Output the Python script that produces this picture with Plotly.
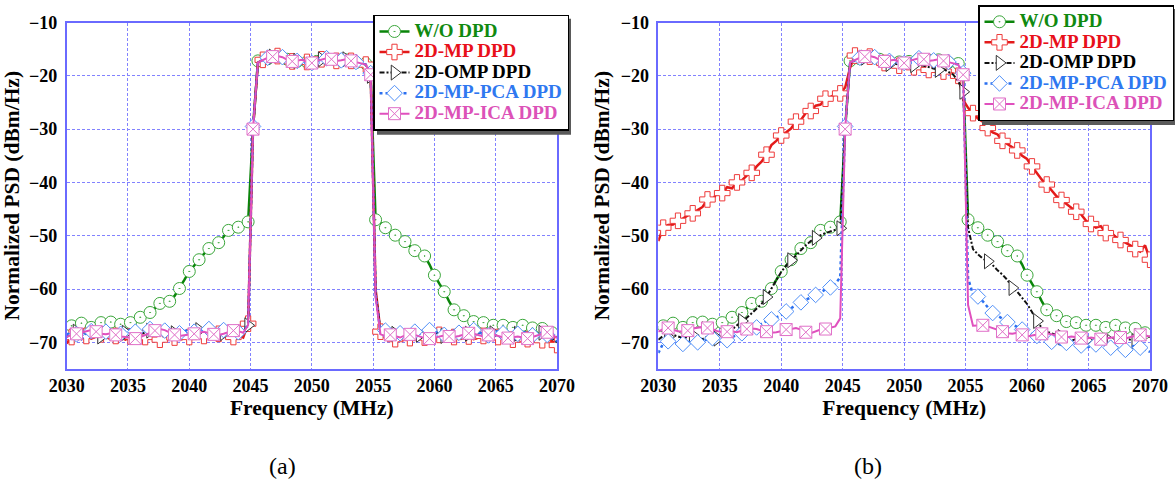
import plotly.graph_objects as go

# ---------------- data ----------------
FREQ = [round(2030 + 0.4 * i, 1) for i in range(101)]   # MHz sample grid
X_TICKS = [2030, 2035, 2040, 2045, 2050, 2055, 2060, 2065, 2070]
Y_TICKS = [-70, -60, -50, -40, -30, -20, -10]

# in-band parts (2045.6 ... 2054.4 MHz)
BAND_WO = [-17.2, -17.0, -16.8, -16.7, -16.5, -16.6, -16.9, -17.2, -17.3, -17.1,
           -17.4, -17.5, -17.3, -17.0, -16.8, -16.9, -17.1, -17.2, -17.0, -17.3,
           -17.5, -17.5, -17.7]
BAND_DPD = [-17.5, -17.0, -16.6, -16.4, -16.3, -16.5, -17.0, -17.3, -17.2, -17.0,
            -17.4, -17.6, -17.2, -16.9, -16.7, -16.9, -17.2, -17.1, -16.9, -17.2,
            -17.4, -17.6, -17.9]
BAND_MP_B = [-18.5, -16.2, -16.0, -16.1, -16.4, -16.8, -17.3, -17.6, -17.8, -18.0,
             -18.1, -18.3, -18.2, -18.4, -18.6, -18.7, -18.9, -18.8, -19.0, -19.2,
             -19.3, -19.6, -20.0]
BAND_OMP_B = [-17.6, -17.1, -16.8, -16.6, -16.6, -16.9, -17.3, -17.6, -17.8, -17.7,
              -18.0, -18.2, -18.1, -18.0, -17.9, -18.1, -18.4, -18.6, -18.9, -18.7,
              -19.2, -19.8, -21.0]

# W/O DPD (same measurement in both panels)
WO_LO = [-67.2, -66.9, -66.6, -66.4, -66.9, -67.2, -66.8, -66.3, -66.2, -66.2,
         -66.4, -66.6, -66.5, -66.3, -65.8, -65.3, -64.9, -64.4, -63.6, -62.7,
         -62.4, -62.3, -61.3, -59.9, -58.3, -56.7, -55.5, -54.5, -53.4, -52.4,
         -51.9, -51.3, -50.2, -49.0, -48.7, -48.4, -47.9, -47.4, -30.0]
WO_HI = [-20.0, -47.0, -47.6, -48.5, -49.2, -49.9, -50.5, -51.1, -51.9, -52.8,
         -53.3, -53.8, -55.4, -57.4, -59.0, -60.5, -62.3, -63.9, -64.6, -65.0,
         -65.6, -66.1, -66.2, -66.3, -66.6, -66.8, -66.8, -66.8, -67.0, -67.2,
         -67.0, -66.8, -67.1, -67.3, -67.4, -67.4, -67.8, -68.2, -68.6]

# panel (a)
MP_A_LO = [-70.2, -69.0, -68.6, -69.2, -68.8, -69.3, -68.9, -68.5, -69.0, -69.4,
           -68.8, -69.1, -69.5, -68.9, -69.2, -69.6, -69.0, -68.7, -69.3, -69.5,
           -68.9, -68.6, -69.1, -69.4, -68.8, -69.0, -68.5, -68.2, -68.8, -69.2,
           -68.7, -68.4, -68.9, -69.3, -69.0, -68.6, -69.1, -66.5, -30.0]
MP_A_HI = [-20.0, -60.0, -68.0,
           -69.2, -68.7, -69.4, -69.0, -68.5, -69.2, -69.5, -68.8, -69.1, -69.4,
           -68.9, -68.6, -69.2, -69.5, -69.0, -68.7, -69.3, -68.9, -69.4, -69.1,
           -68.8, -69.3, -69.6, -69.0, -68.7, -69.2, -69.5, -68.9, -69.1, -69.4,
           -68.8, -69.2, -69.6, -69.3, -69.8, -70.5]
OMP_A_LO = [-69.0, -68.4, -68.0, -68.5, -68.2, -67.9, -68.6, -68.9, -68.3, -68.0,
            -68.4, -68.7, -68.2, -67.9, -68.3, -68.6, -68.1, -67.8, -68.2, -68.5,
            -68.0, -67.8, -68.3, -68.6, -68.2, -67.9, -68.1, -67.7, -67.4, -67.3,
            -67.6, -68.0, -68.3, -67.9, -68.1, -68.4, -67.8, -66.8, -30.0]
OMP_A_HI = [-20.0, -60.5, -68.0,
            -68.3, -67.9, -68.4, -68.7, -68.1, -67.8, -68.2, -68.6, -68.3, -67.9,
            -68.0, -68.5, -68.8, -68.2, -67.9, -68.3, -68.7, -68.4, -68.0, -68.2,
            -68.6, -68.9, -68.3, -67.9, -68.2, -68.5, -68.8, -68.4, -68.1, -68.5,
            -68.9, -68.6, -68.2, -68.7, -69.3, -70.0]
PCA_A_LO = [-68.6, -68.0, -68.5, -69.4, -68.3, -67.9, -68.2, -68.6, -68.0, -67.7,
            -68.1, -68.4, -67.9, -67.6, -68.0, -68.3, -67.8, -67.5, -67.9, -68.2,
            -67.8, -67.6, -68.0, -68.3, -67.9, -67.6, -68.0, -68.2, -67.8, -67.5,
            -67.9, -68.2, -67.7, -67.4, -67.8, -68.1, -67.6, -66.9, -29.5]
PCA_A_HI = [-19.5, -61.0, -68.2,
            -67.8, -67.5, -68.0, -68.3, -67.9, -67.6, -68.0, -68.4, -68.1, -67.7,
            -67.9, -68.3, -68.6, -68.1, -67.8, -68.2, -68.5, -68.0, -67.7, -68.1,
            -68.4, -68.7, -68.2, -67.9, -68.3, -68.6, -68.9, -68.4, -68.0, -68.3,
            -68.7, -68.5, -68.1, -68.6, -69.2, -69.8]
ICA_A_LO = [-69.0, -68.5, -68.4, -68.2, -67.9, -67.7, -68.0, -68.4, -68.5, -68.3,
            -68.6, -68.9, -69.0, -69.2, -69.3, -69.0, -68.6, -68.2, -67.8, -67.5,
            -67.7, -68.2, -68.6, -68.8, -68.7, -68.5, -68.4, -68.2, -68.0, -68.3,
            -68.5, -68.6, -68.4, -68.1, -67.8, -67.9, -68.2, -66.8, -30.0]
ICA_A_HI = [-19.8, -61.5, -68.5,
            -68.8, -68.6, -68.9, -69.1, -68.7, -68.5, -68.6, -68.9, -69.2, -69.3,
            -69.1, -68.8, -68.7, -68.9, -69.0, -68.8, -68.5, -68.3, -68.4, -68.7,
            -68.9, -68.6, -68.5, -68.8, -69.1, -69.2, -69.0, -68.9, -69.1, -69.3,
            -69.0, -68.7, -68.4, -68.1, -68.5, -69.2]

# panel (b)
MP_B_LO = [-51.0, -48.5, -48.0, -47.9, -47.2, -46.8, -46.2, -45.8, -45.2, -44.6,
           -43.2, -43.4, -41.8, -42.0, -40.9, -41.1, -40.0, -39.6, -38.7, -38.2,
           -37.0, -36.1, -34.8, -33.0, -32.2, -31.2, -30.6, -29.9, -28.6, -28.3,
           -27.0, -26.6, -25.6, -25.4, -24.3, -24.0, -23.5, -23.3, -22.2]
MP_B_HI = [-24.5, -26.0, -27.0, -28.0, -28.6, -29.8, -30.6, -31.0, -32.2, -32.8,
           -33.5, -34.0, -35.0, -35.6, -37.0, -38.3, -39.5, -40.4, -41.5, -42.6,
           -43.3, -44.0, -44.8, -45.5, -46.0, -47.2, -47.8, -48.5, -48.2, -49.5,
           -49.3, -50.2, -50.8, -51.3, -51.8, -52.5, -53.0, -51.8, -54.5]
OMP_B_LO = [-69.5, -68.8, -69.0, -68.6, -68.9, -69.2, -69.0, -68.7, -69.1, -69.4,
            -68.9, -68.6, -69.3, -69.0, -68.4, -67.6, -66.8, -66.0, -65.4, -64.5,
            -63.6, -62.8, -61.5, -59.9, -58.2, -56.8, -55.6, -54.6, -53.6, -52.7,
            -51.8, -51.0, -50.4, -49.9, -49.5, -49.2, -48.9, -48.6, -30.0]
OMP_B_HI = [-23.0, -48.5, -52.5, -53.5, -54.3, -54.8, -55.5, -56.5, -57.3, -58.3,
            -59.8, -60.5, -61.6, -62.8, -64.3, -66.0, -67.3, -68.0, -68.3, -68.7,
            -69.0, -69.4, -69.7, -69.3, -69.0, -69.6, -69.8, -69.4, -69.1, -69.6,
            -69.9, -69.3, -68.8, -69.2, -69.5, -69.8, -69.2, -68.7, -69.0]
PCA_B_LO = [-72.0, -70.2, -69.8, -70.0, -70.4, -70.3, -69.9, -70.1, -70.0, -69.7,
            -69.5, -69.2, -68.9, -69.3, -69.6, -69.0, -68.6, -68.3, -68.2, -67.8,
            -67.2, -66.5, -66.0, -65.7, -65.3, -64.9, -64.2, -63.6, -63.0, -62.5,
            -62.0, -61.6, -61.1, -60.6, -60.1, -59.7, -59.0, -57.8, -29.5]
PCA_B_HI = [-19.5, -58.0, -61.0, -61.4, -62.3, -63.5, -64.5, -65.0, -65.6, -66.2,
            -66.7, -67.1, -67.6, -68.1, -68.5, -68.8, -69.2, -69.6, -69.9, -70.2,
            -70.5, -70.1, -69.8, -70.3, -70.6, -70.9, -70.8, -70.4, -70.2, -70.6,
            -71.0, -70.8, -71.2, -71.4, -70.9, -70.6, -71.0, -71.3, -71.8]
ICA_B_LO = [-68.0, -67.5, -67.3, -67.6, -67.9, -68.0, -67.8, -67.4, -67.2, -67.1,
            -67.3, -67.5, -67.9, -68.1, -68.0, -67.9, -68.1, -67.8, -67.5, -67.4,
            -67.5, -67.8, -68.0, -68.2, -68.1, -67.9, -67.6, -67.5, -67.3, -67.6,
            -68.1, -68.3, -67.9, -67.6, -67.5, -67.3, -67.0, -65.5, -30.0]
ICA_B_HI = [-19.8, -63.0, -66.9,
            -66.9, -66.8, -67.0, -67.3, -67.6, -68.0, -68.3, -68.4, -68.2, -68.6,
            -68.9, -68.7, -68.5, -68.4, -68.3, -68.5, -68.8, -69.0, -69.1, -68.9,
            -69.0, -69.2, -69.3, -69.1, -69.2, -69.4, -69.3, -69.2, -69.0, -69.1,
            -69.3, -69.0, -68.8, -68.6, -68.7, -68.9]

SERIES_NAMES = ["W/O DPD", "2D-MP DPD", "2D-OMP DPD", "2D-MP-PCA DPD", "2D-MP-ICA DPD"]
PANEL_A = [WO_LO + BAND_WO + WO_HI,
           MP_A_LO + BAND_DPD + MP_A_HI,
           OMP_A_LO + BAND_DPD + OMP_A_HI,
           PCA_A_LO + BAND_DPD + PCA_A_HI,
           ICA_A_LO + BAND_DPD + ICA_A_HI]
PANEL_B = [WO_LO + BAND_WO + WO_HI,
           MP_B_LO + BAND_MP_B + MP_B_HI,
           OMP_B_LO + BAND_OMP_B + OMP_B_HI,
           PCA_B_LO + BAND_DPD + PCA_B_HI,
           ICA_B_LO + BAND_DPD + ICA_B_HI]
for s in PANEL_A + PANEL_B:
    assert len(s) == len(FREQ), len(s)

# ---------------- styles ----------------
FONT = "Liberation Serif, Times New Roman, Times, serif"
STYLES = [
    dict(text="#108a10", line=dict(color="#0a850a", width=2.5),
         marker=dict(symbol="circle-dot", size=12, color="white", line=dict(color="#3aa63a", width=1)),
         start=1, step=2),
    dict(text="#e8101a", line=dict(color="#e31a1a", width=2.5),
         marker=dict(symbol="cross", size=13, color="white", line=dict(color="#ee3a3a", width=1)),
         start=1, step=3),
    dict(text="#000000", line=dict(color="#111111", width=2, dash="5px,2px,2px,2px"),
         marker=dict(symbol="triangle-right", size=13, color="white", line=dict(color="#333333", width=1)),
         start=2, step=5),
    dict(text="#2f78f0", line=dict(color="#2a6ff0", width=2.5, dash="dot"),
         marker=dict(symbol="diamond", size=12, color="white", line=dict(color="#4f8ff8", width=1)),
         start=2, step=3),
    dict(text="#dc52b8", line=dict(color="#e050be", width=2),
         marker=dict(symbol="square-x", size=12, color="white", line=dict(color="#e070c8", width=1)),
         start=2, step=4),
]

fig = go.Figure()
panels = [("x", "y", "legend", PANEL_A), ("x2", "y2", "legend2", PANEL_B)]
for xa, ya, lg, data in panels:
    for name, st, ys in zip(SERIES_NAMES, STYLES, data):
        fig.add_trace(go.Scatter(x=FREQ, y=ys, mode="lines", line=st["line"],
                                 xaxis=xa, yaxis=ya, showlegend=False, hoverinfo="skip"))
        fig.add_trace(go.Scatter(x=FREQ[st["start"]::st["step"]], y=ys[st["start"]::st["step"]],
                                 mode="markers", marker=st["marker"],
                                 xaxis=xa, yaxis=ya, showlegend=False, hoverinfo="skip"))
    for name, st in zip(SERIES_NAMES, STYLES):
        fig.add_trace(go.Scatter(
            x=[None], y=[None], mode="lines+markers",
            name=f"<span style='color:{st['text']};font-size:19px'><b>{name}</b></span>",
            line=st["line"], marker=st["marker"],
            xaxis=xa, yaxis=ya, legend=lg, showlegend=True))

W, H = 1175, 484
def px(v):
    return v / W
def py(v):
    return 1 - v / H

axis_common = dict(
    showgrid=True, gridcolor="#8282ff", griddash="3px,2px", gridwidth=1,
    showline=True, linecolor="#6a6aff", linewidth=1.5, mirror=True,
    ticks="", zeroline=False, automargin=False,
    tickfont=dict(family=FONT, size=18, color="black", weight="bold"),
)
TITLE_FONT = dict(family=FONT, size=21.5, color="black", weight="bold")
xcommon = dict(axis_common, range=[2030, 2070], tickvals=X_TICKS, ticklabelstandoff=0,
               title=dict(text="Frequency (MHz)", font=TITLE_FONT, standoff=3))
ycommon = dict(axis_common, range=[-75, -10], tickvals=Y_TICKS, ticklabelstandoff=4,
               title=dict(text="Normalized PSD (dBm/Hz)", font=TITLE_FONT, standoff=5))

LEG_FONT = dict(family=FONT, size=13.5, weight="bold")
LEG_A = (373, 14.7)
LEG_B = (978, 5)
LEG_W, LEG_H = 194, 116
SH = 4
ydom = [py(369), py(22.5)]
fig.update_layout(
    width=W, height=H, margin=dict(l=0, r=0, t=0, b=0),
    paper_bgcolor="white", plot_bgcolor="white",
    xaxis=dict(xcommon, domain=[px(66.7), px(557)], anchor="y"),
    yaxis=dict(ycommon, domain=ydom, anchor="x"),
    xaxis2=dict(xcommon, domain=[px(658.3), px(1150)], anchor="y2"),
    yaxis2=dict(ycommon, domain=ydom, anchor="x2"),
    legend=dict(x=px(LEG_A[0]), y=py(LEG_A[1]), xanchor="left", yanchor="top",
                bgcolor="white", bordercolor="black", borderwidth=1.5,
                font=LEG_FONT, itemwidth=30, tracegroupgap=0),
    legend2=dict(x=px(LEG_B[0]), y=py(LEG_B[1]), xanchor="left", yanchor="top",
                 bgcolor="white", bordercolor="black", borderwidth=1.5,
                 font=LEG_FONT, itemwidth=30, tracegroupgap=0),
    showlegend=True,
    shapes=[
        dict(type="rect", xref="paper", yref="paper", layer="above",
             x0=px(LEG_A[0] + SH), x1=px(LEG_A[0] + LEG_W + SH),
             y0=py(LEG_A[1] + LEG_H + SH), y1=py(LEG_A[1] + SH),
             fillcolor="#5a5a5a", line=dict(width=0)),
        dict(type="rect", xref="paper", yref="paper", layer="above",
             x0=px(LEG_B[0] + SH), x1=px(LEG_B[0] + LEG_W + SH),
             y0=py(LEG_B[1] + LEG_H + SH), y1=py(LEG_B[1] + SH),
             fillcolor="#5a5a5a", line=dict(width=0)),
    ],
    annotations=[
        dict(text="(a)", x=px(282), y=py(466), xref="paper", yref="paper", showarrow=False,
             xanchor="center", yanchor="middle",
             font=dict(family=FONT, size=24, color="black")),
        dict(text="(b)", x=px(868), y=py(466), xref="paper", yref="paper", showarrow=False,
             xanchor="center", yanchor="middle",
             font=dict(family=FONT, size=24, color="black")),
    ],
)

fig.write_html("out.html")
